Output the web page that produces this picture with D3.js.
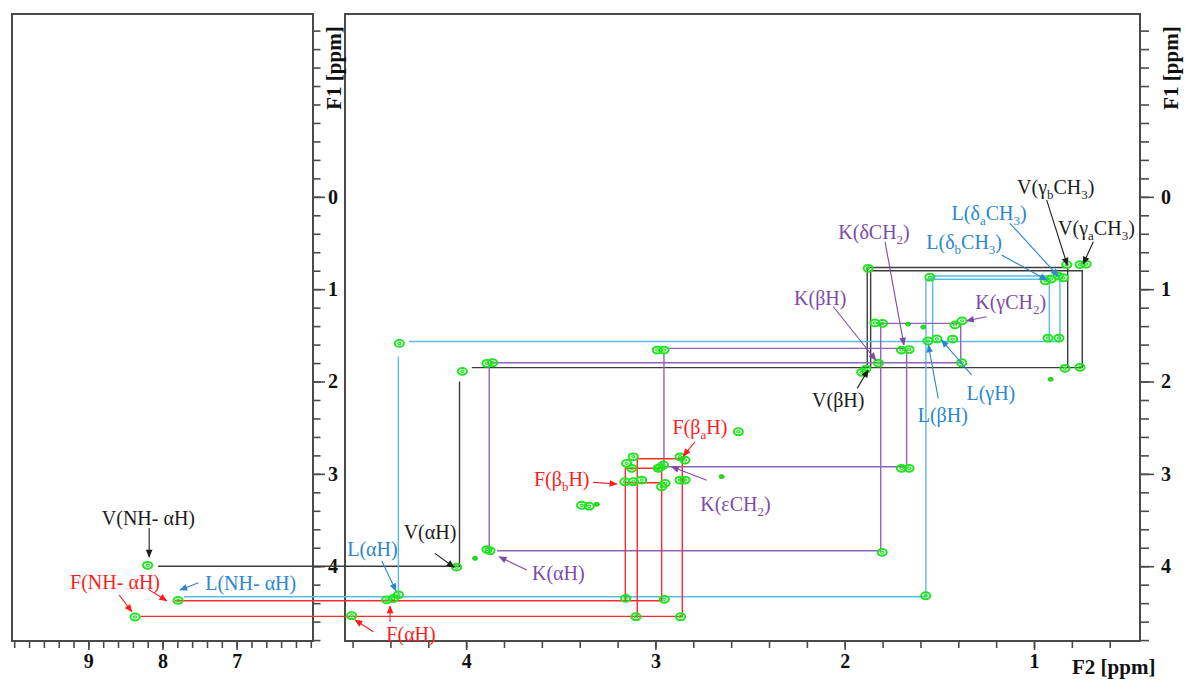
<!DOCTYPE html>
<html>
<head>
<meta charset="utf-8">
<script src="https://cdn.jsdelivr.net/npm/d3@7"></script>
<style>
  body { margin: 0; background: #fff; }
  svg { display: block; }
</style>
</head>
<body>
<svg id="chart" width="1186" height="680"></svg>
<script>
// ---- Axis extents (ppm) and tick labels ----
const amideRange = [10.03, 5.97];      // F2, amide panel
const aliphaticRange = [4.64, 0.44];   // F2, aliphatic panel
const f1Range = [-1.98, 4.81];         // F1, shared
const amideTickLabels = [9, 8, 7];
const aliphaticTickLabels = [4, 3, 2, 1];
const f1TickLabels = [0, 1, 2, 3, 4];

// ---- Cross peaks [F2, F1] in ppm, per spin system ----
const valinePeaks = [
  [8.20, 3.99],
  [4.05, 4.01], [4.02, 1.89],
  [1.888, 1.865], [1.91, 1.90], [1.876, 0.774],
  [0.757, 0.734], [0.827, 0.734], [0.725, 0.728],
  [0.836, 1.857], [0.757, 1.846]
];
const leucinePeaks = [
  [7.79, 4.37],
  [4.358, 4.31], [4.353, 1.587],
  [1.56, 1.561], [1.513, 1.539], [1.572, 4.32],
  [0.94, 0.91], [0.91, 0.89], [0.873, 0.858], [0.845, 0.876],
  [0.926, 1.529], [0.868, 1.529], [1.55, 0.87]
];
const lysinePeaks = [
  [3.874, 3.833], [3.89, 3.82],
  [3.89, 1.803], [3.86, 1.797],
  [1.802, 3.85], [1.822, 1.80],
  [1.84, 1.365], [1.80, 1.37],
  [1.417, 1.387], [1.38, 1.343], [1.382, 1.797],
  [1.70, 1.66], [1.66, 1.654],
  [1.70, 2.94], [1.66, 2.94],
  [2.99, 1.659], [2.955, 1.659],
  [2.976, 2.93]
];
const phePeaks = [
  [8.37, 4.55],
  [4.42, 4.365], [4.385, 4.35], [4.605, 4.536],
  [3.157, 4.348], [2.953, 4.359], [3.103, 4.547], [2.867, 4.547],
  [3.117, 2.815], [3.152, 2.886], [3.125, 2.94],
  [3.161, 3.085], [3.117, 3.085], [3.073, 3.067],
  [2.985, 2.94], [2.958, 2.904], [2.949, 3.103], [2.967, 3.139],
  [2.87, 2.815], [2.844, 2.851], [2.87, 3.067], [2.844, 3.067]
];
const otherPeaks = [
  [3.39, 3.34], [3.35, 3.35], [2.562, 2.544], [1.43, 1.54]
];
const weakPeaks = [
  [3.31, 3.33], [2.65, 3.03], [0.912, 1.976], [3.953, 3.915],
  [1.665, 1.378], [1.585, 1.41]
];

// ---- Correlation paths [F2, F1] in ppm, per spin system ----
const valinePaths = [
  [[8.06, 4.00], [4.035, 4.00], [4.035, 2.00]],
  [[3.97, 1.85], [0.745, 1.85]],
  [[1.881, 1.85], [1.881, 0.766], [0.822, 0.766], [0.822, 1.85]],
  [[1.863, 1.85], [1.863, 0.80], [0.745, 0.80], [0.745, 1.85]]
];
const leucinePaths = [
  [[7.71, 4.33], [1.571, 4.33], [1.571, 0.893], [0.919, 0.893], [0.919, 1.567]],
  [[4.358, 4.31], [4.358, 1.73]],
  [[4.302, 1.567], [0.863, 1.567]],
  [[1.535, 1.567], [1.535, 0.858], [0.863, 0.858], [0.863, 1.567]]
];
const lysinePaths = [
  [[3.837, 3.833], [1.81, 3.833], [1.81, 1.37], [1.387, 1.37], [1.387, 1.797]],
  [[3.878, 3.833], [3.878, 1.803]],
  [[3.874, 1.797], [1.387, 1.797]],
  [[2.955, 1.69], [2.955, 2.923], [1.673, 2.923], [1.673, 1.66]],
  [[2.939, 1.641], [1.687, 1.641]]
];
const phePaths = [
  [[7.83, 4.374], [2.967, 4.374], [2.967, 2.94], [3.159, 2.94], [3.159, 4.374]],
  [[8.30, 4.543], [2.858, 4.543], [2.858, 2.836], [3.096, 2.836], [3.096, 4.543]],
  [[3.159, 3.096], [2.967, 3.096]]
];

// ---- Assignment labels: text ("_x" = subscript), label centre and arrows in ppm ----
const labels = [
  { res: "V", text: "V(NH- αH)", at: [8.19, 3.478], arrows: [[[8.18, 3.587], [8.18, 3.901]]] },
  { res: "F", text: "F(NH- αH)", at: [8.64, 4.168], arrows: [[[8.583, 4.313], [8.415, 4.493]], [[8.192, 4.251], [7.943, 4.374]]] },
  { res: "L", text: "L(NH- αH)", at: [6.81, 4.186], arrows: [[[7.517, 4.179], [7.764, 4.258]]] },
  { res: "L", text: "L(αH)", at: [4.495, 3.817], arrows: [[[4.446, 3.942], [4.371, 4.266]]] },
  { res: "V", text: "V(αH)", at: [4.191, 3.627], arrows: [[[4.165, 3.861], [4.064, 4.012]]] },
  { res: "K", text: "K(αH)", at: [3.513, 4.071], arrows: [[[3.680, 4.042], [3.825, 3.898]]] },
  { res: "F", text: "F(αH)", at: [4.291, 4.735], arrows: [[[4.490, 4.710], [4.587, 4.583]], [[4.402, 4.604], [4.402, 4.431]]] },
  { res: "F", text: "F(β_bH)", at: [3.495, 3.056], arrows: [[[3.328, 3.092], [3.204, 3.110]]] },
  { res: "F", text: "F(β_aH)", at: [2.765, 2.49], arrows: [[[2.791, 2.652], [2.853, 2.807]]] },
  { res: "K", text: "K(εCH_2)", at: [2.577, 3.327], arrows: [[[2.729, 3.068], [2.914, 2.923]]] },
  { res: "V", text: "V(βH)", at: [2.034, 2.201], arrows: [[[1.934, 2.074], [1.876, 1.876]]] },
  { res: "L", text: "L(βH)", at: [1.482, 2.363], arrows: [[[1.506, 2.182], [1.558, 1.605]]] },
  { res: "L", text: "L(γH)", at: [1.228, 2.128], arrows: [[[1.329, 1.93], [1.488, 1.551]]] },
  { res: "K", text: "K(βH)", at: [2.129, 1.099], arrows: [[[2.060, 1.19], [1.836, 1.767]]] },
  { res: "K", text: "K(δCH_2)", at: [1.845, 0.378], arrows: [[[1.787, 0.486], [1.687, 1.605]]] },
  { res: "K", text: "K(γCH_2)", at: [1.123, 1.136], arrows: [[[1.25, 1.298], [1.356, 1.342]]] },
  { res: "L", text: "L(δ_bCH_3)", at: [1.369, 0.486], arrows: [[[1.171, 0.63], [0.933, 0.901]]] },
  { res: "L", text: "L(δ_aCH_3)", at: [1.237, 0.172], arrows: [[[1.127, 0.287], [0.872, 0.858]]] },
  { res: "V", text: "V(γ_bCH_3)", at: [0.885, -0.109], arrows: [[[0.933, 0.035], [0.824, 0.739]]] },
  { res: "V", text: "V(γ_aCH_3)", at: [0.67, 0.338], arrows: [[[0.687, 0.486], [0.740, 0.728]]] }
];

// ---- Styling ----
const lineColor = { V: "#3c3c3c", L: "#58bbe8", K: "#9363b9", F: "#ff2b2b" };
const textColor = { V: "#1c1c1c", L: "#2a86cf", K: "#7d4aaa", F: "#ff1c1c" };
const frameColor = "#4a4a4a";
const peakColor = "#1fe41f";
const serif = "'Liberation Serif', 'Times New Roman', serif";

const svg = d3.select("#chart");
const plotTop = 14, plotBottom = 641;
const xA = d3.scaleLinear().domain(amideRange).range([12, 313]);
const xB = d3.scaleLinear().domain(aliphaticRange).range([345, 1140]);
const y = d3.scaleLinear().domain(f1Range).range([plotTop, plotBottom]);
// F2 position: amide panel for shifts above 5.5 ppm, aliphatic panel otherwise
const px = f2 => (f2 > 5.5 ? xA(f2) : xB(f2));

// ---- Markers for arrow heads ----
const defs = svg.append("defs");
Object.keys(textColor).forEach(k => {
  defs.append("marker")
    .attr("id", "head-" + k)
    .attr("viewBox", "0 0 10 10")
    .attr("refX", 9).attr("refY", 5)
    .attr("markerWidth", 9).attr("markerHeight", 8)
    .attr("markerUnits", "userSpaceOnUse")
    .attr("orient", "auto")
    .append("path").attr("d", "M0,0.8 L10,5 L0,9.2 Z").attr("fill", textColor[k]);
});

// ---- Panel frames ----
[[12, 313], [345, 1140]].forEach(([x0, x1]) => {
  svg.append("rect")
    .attr("x", x0).attr("y", plotTop).attr("width", x1 - x0).attr("height", plotBottom - plotTop)
    .attr("fill", "none").attr("stroke", frameColor).attr("stroke-width", 2);
});

// ---- Axes ----
function styleAxis(g) {
  g.select(".domain").remove();
  g.selectAll(".tick line").attr("stroke", frameColor).attr("stroke-width", 1.6);
  g.selectAll(".tick text")
    .attr("fill", "#111").attr("font-family", serif)
    .attr("font-size", 20).attr("font-weight", "bold");
}
const steps = (a, b) => d3.range(Math.round(a * 5), Math.round(b * 5) + 1).map(v => v / 5);

// bottom axes
svg.append("g").attr("transform", `translate(0,${plotBottom})`)
  .call(d3.axisBottom(xA).tickValues(steps(6.0, 10.0)).tickSize(7).tickFormat(""))
  .call(styleAxis);
svg.append("g").attr("transform", `translate(0,${plotBottom})`)
  .call(d3.axisBottom(xA).tickValues(amideTickLabels).tickSize(9).tickPadding(4).tickFormat(d3.format("d")))
  .call(styleAxis);
svg.append("g").attr("transform", `translate(0,${plotBottom})`)
  .call(d3.axisBottom(xB).tickValues(steps(0.6, 4.6)).tickSize(7).tickFormat(""))
  .call(styleAxis);
svg.append("g").attr("transform", `translate(0,${plotBottom})`)
  .call(d3.axisBottom(xB).tickValues(aliphaticTickLabels).tickSize(9).tickPadding(4).tickFormat(d3.format("d")))
  .call(styleAxis);

// F1 axes on the right side of each panel
[[313, 7.5, 12, 3], [1140, 9, 14, 7]].forEach(([x0, minorLen, majorLen, pad]) => {
  svg.append("g").attr("transform", `translate(${x0},0)`)
    .call(d3.axisRight(y).tickValues(steps(-1.8, 4.8)).tickSize(minorLen).tickFormat(""))
    .call(styleAxis);
  svg.append("g").attr("transform", `translate(${x0},0)`)
    .call(d3.axisRight(y).tickValues(f1TickLabels).tickSize(majorLen).tickPadding(pad).tickFormat(d3.format("d")))
    .call(styleAxis);
});

// axis titles
[334, 1171].forEach(cx => {
  svg.append("text")
    .attr("transform", `translate(${cx},68) rotate(-90)`)
    .attr("text-anchor", "middle").attr("dy", "0.35em")
    .attr("font-family", serif).attr("font-size", 21).attr("font-weight", "bold").attr("fill", "#111")
    .text("F1 [ppm]");
});
svg.append("text")
  .attr("x", 1072).attr("y", 674)
  .attr("font-family", serif).attr("font-size", 21).attr("font-weight", "bold").attr("fill", "#111")
  .text("F2 [ppm]");

// ---- Correlation paths ----
const pathLine = d3.line().x(d => px(d[0])).y(d => y(d[1]));
const pathSets = { V: valinePaths, L: leucinePaths, K: lysinePaths, F: phePaths };
Object.entries(pathSets).forEach(([k, paths]) => {
  svg.append("g").selectAll("path").data(paths).join("path")
    .attr("d", pathLine)
    .attr("fill", "none")
    .attr("stroke", lineColor[k])
    .attr("stroke-width", 1.4);
});

// ---- Peaks (contour rings) ----
const allPeaks = [].concat(valinePeaks, leucinePeaks, lysinePeaks, phePeaks, otherPeaks);
const peakG = svg.append("g");
peakG.selectAll("ellipse.outer").data(allPeaks).join("ellipse")
  .attr("class", "outer")
  .attr("cx", d => px(d[0])).attr("cy", d => y(d[1]))
  .attr("rx", 4.6).attr("ry", 3.4)
  .attr("fill", "none").attr("stroke", peakColor).attr("stroke-width", 2);
peakG.selectAll("ellipse.inner").data(allPeaks).join("ellipse")
  .attr("class", "inner")
  .attr("cx", d => px(d[0])).attr("cy", d => y(d[1]))
  .attr("rx", 1.6).attr("ry", 1.1)
  .attr("fill", "none").attr("stroke", peakColor).attr("stroke-width", 1.2);
peakG.selectAll("ellipse.weak").data(weakPeaks).join("ellipse")
  .attr("class", "weak")
  .attr("cx", d => px(d[0])).attr("cy", d => y(d[1]))
  .attr("rx", 2.6).attr("ry", 2)
  .attr("fill", peakColor).attr("stroke", "#14b814").attr("stroke-width", 0.8);

// ---- Assignment labels ----
function richText(sel, str) {
  const parts = str.split(/(_.)/).filter(s => s.length);
  let low = false;
  parts.forEach(p => {
    if (p[0] === "_") {
      sel.append("tspan").attr("font-size", 13).attr("dy", 5).text(p[1]);
      low = true;
    } else {
      const t = sel.append("tspan").text(p);
      if (low) { t.attr("dy", -5); low = false; }
    }
  });
}
const labelG = svg.append("g");
labels.forEach(lb => {
  lb.arrows.forEach(a => {
    labelG.append("line")
      .attr("x1", px(a[0][0])).attr("y1", y(a[0][1]))
      .attr("x2", px(a[1][0])).attr("y2", y(a[1][1]))
      .attr("stroke", textColor[lb.res]).attr("stroke-width", 1.1)
      .attr("marker-end", `url(#head-${lb.res})`);
  });
  const t = labelG.append("text")
    .attr("x", px(lb.at[0])).attr("y", y(lb.at[1]) + 7)
    .attr("text-anchor", "middle")
    .attr("font-family", serif).attr("font-size", 20)
    .attr("fill", textColor[lb.res]);
  richText(t, lb.text);
});
</script>
</body>
</html>
